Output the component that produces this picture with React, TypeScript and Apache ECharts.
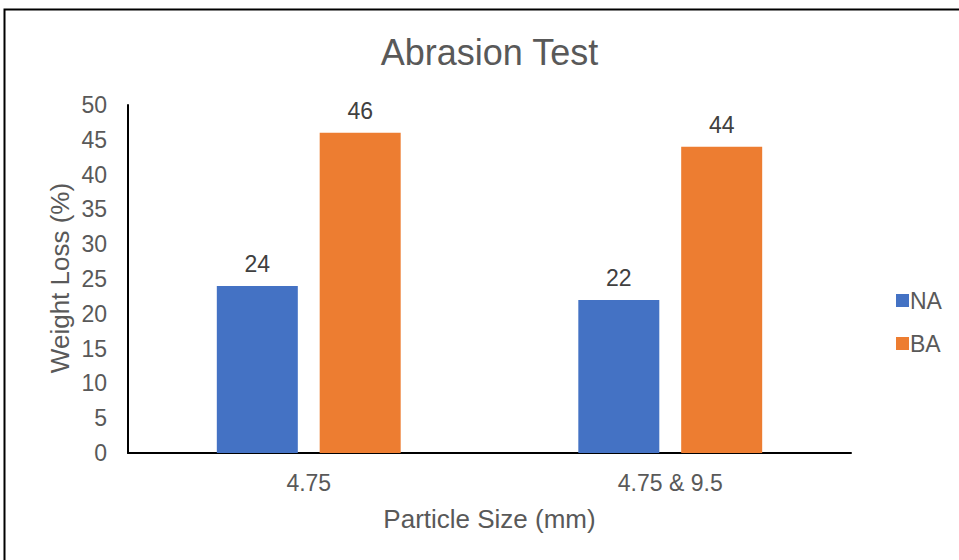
import React, { useEffect, useRef } from "react";
import * as echarts from "echarts";

const categories = ["4.75", "4.75 & 9.5"];
const naValues = [24, 22];
const baValues = [46, 44];
const seriesNames = ["NA", "BA"];
const yTicks = { min: 0, max: 50, interval: 5 };

const FONT = "Liberation Sans, Arial, sans-serif";
const GREY = "#595959";

export default function App() {
  const ref = useRef<HTMLDivElement>(null);

  useEffect(() => {
    if (!ref.current) return;
    const chart = echarts.init(ref.current, null, { renderer: "svg" });

    const barLabel = {
      show: true,
      position: "top" as const,
      distance: 10,
      color: "#404040",
      fontSize: 23,
      fontFamily: FONT,
    };

    chart.setOption({
      animation: false,
      backgroundColor: "#ffffff",
      textStyle: { fontFamily: FONT },
      grid: { left: 128, right: 108, top: 105, bottom: 107, containLabel: false },
      legend: {
        orient: "vertical",
        left: 891,
        top: 284,
        itemWidth: 13,
        itemHeight: 13,
        itemGap: 20,
        icon: "rect",
        textStyle: { color: GREY, fontSize: 23, fontFamily: FONT, padding: [0, 0, 0, -4] },
        data: seriesNames,
      },
      xAxis: {
        type: "category",
        data: categories,
        axisLine: { show: true, lineStyle: { color: "#000000", width: 2 } },
        axisTick: { show: false },
        axisLabel: { color: GREY, fontSize: 23, fontFamily: FONT, margin: 18 },
        splitLine: { show: false },
      },
      yAxis: {
        type: "value",
        min: yTicks.min,
        max: yTicks.max,
        interval: yTicks.interval,
        axisLine: { show: true, lineStyle: { color: "#000000", width: 2 } },
        axisTick: { show: false },
        axisLabel: { color: GREY, fontSize: 23, fontFamily: FONT, margin: 21 },
        splitLine: { show: false },
      },
      series: [
        {
          name: seriesNames[0],
          type: "bar",
          data: naValues,
          barWidth: 81,
          barGap: "27%",
          itemStyle: { color: "#4472C4" },
          label: barLabel,
        },
        {
          name: seriesNames[1],
          type: "bar",
          data: baValues,
          barWidth: 81,
          barGap: "27%",
          itemStyle: { color: "#ED7D31" },
          label: barLabel,
        },
      ],
      graphic: [
        {
          type: "rect",
          shape: { x: 4.5, y: 9.5, width: 1000, height: 1000 },
          style: { fill: "none", stroke: "#000000", lineWidth: 2 },
          silent: true,
        },
        {
          type: "text",
          x: 489.5,
          y: 52,
          style: {
            text: "Abrasion Test",
            fill: GREY,
            font: `36px ${FONT}`,
            textAlign: "center",
            textVerticalAlign: "middle",
          },
        },
        {
          type: "text",
          x: 489.5,
          y: 519,
          style: {
            text: "Particle Size (mm)",
            fill: GREY,
            font: `26px ${FONT}`,
            textAlign: "center",
            textVerticalAlign: "middle",
          },
        },
        {
          type: "text",
          x: 60,
          y: 278,
          rotation: Math.PI / 2,
          style: {
            text: "Weight Loss (%)",
            fill: GREY,
            font: `26px ${FONT}`,
            textAlign: "center",
            textVerticalAlign: "middle",
          },
        },
      ],
    });

    return () => chart.dispose();
  }, []);

  return (
    <div
      ref={ref}
      style={{ position: "absolute", left: 0, top: 0, width: 959, height: 560 }}
    />
  );
}
